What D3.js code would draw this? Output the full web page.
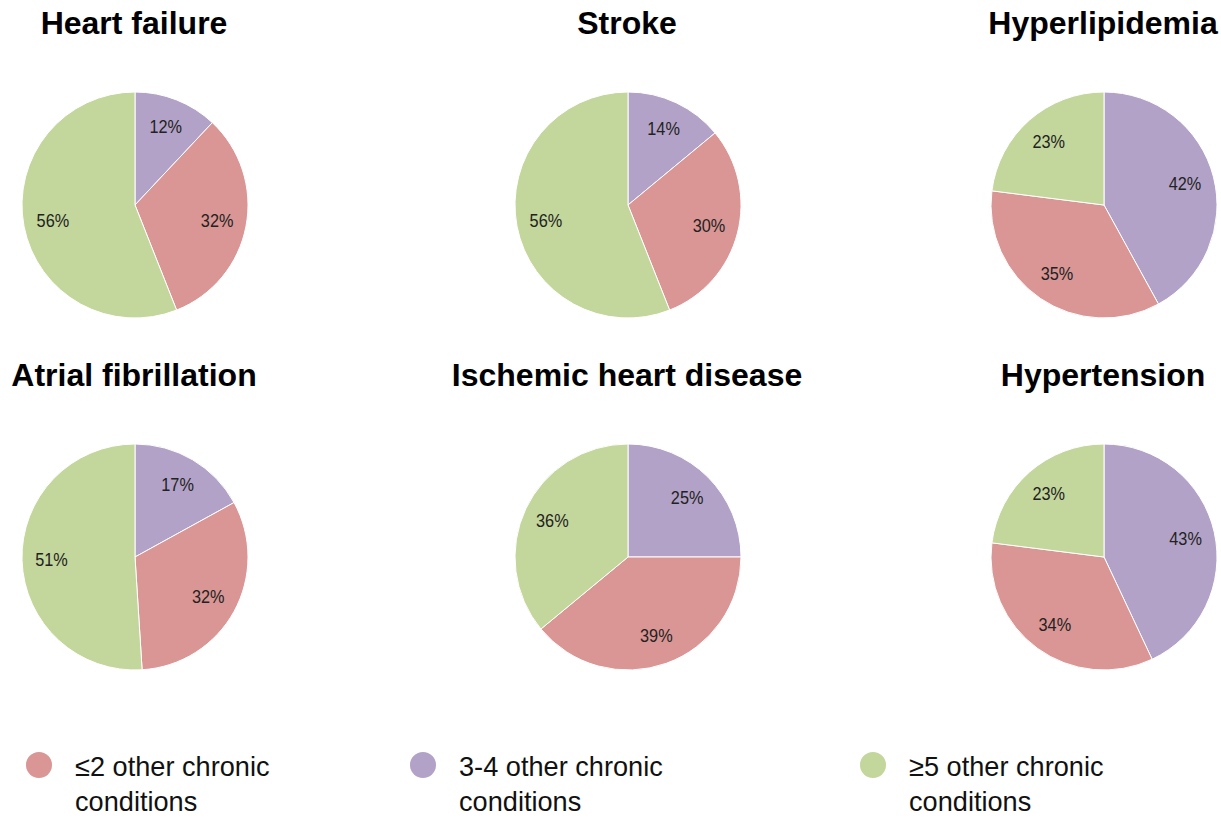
<!DOCTYPE html>
<html>
<head>
<meta charset="utf-8">
<script src="https://cdn.jsdelivr.net/npm/d3@7"></script>
<style>
	body{margin:0;background:#fff;}
	svg{display:block;}
	.title{font-family:"Liberation Sans",Arial,sans-serif;font-weight:bold;fill:#000;}
	.plabel{font-family:"Liberation Sans",Arial,sans-serif;fill:#222;}
	.legtext{font-family:"Liberation Sans",Arial,sans-serif;fill:#111;}
</style>
</head>
<body>
<div id="chart"></div>
<script>
// chart data
var diseases = ["Heart failure", "Stroke", "Hyperlipidemia", "Atrial fibrillation", "Ischemic heart disease", "Hypertension"];
var groups = ["3-4 other chronic conditions", "≤2 other chronic conditions", "≥5 other chronic conditions"];
var pct34 = [12, 14, 42, 17, 25, 43];
var pctLe2 = [32, 30, 35, 32, 39, 34];
var pctGe5 = [56, 56, 23, 51, 36, 23];
var legendLines = [["≤2 other chronic", "conditions"], ["3-4 other chronic", "conditions"], ["≥5 other chronic", "conditions"]];
var legendGroups = ["≤2 other chronic conditions", "3-4 other chronic conditions", "≥5 other chronic conditions"];

var width = 1221, height = 819;
var color = d3.scaleOrdinal()
	.domain(groups)
	.range(["#B3A2C7", "#D99694", "#C3D69B"]);

// grid positions of the pies
var colX = d3.scaleOrdinal().domain([0,1,2]).range([135, 628, 1104]);
var rowY = d3.scaleOrdinal().domain([0,1]).range([205, 557]);
var radius = 113;

var svg = d3.select('#chart').append('svg')
	.attr('width', width)
	.attr('height', height);

var pie = d3.pie().sort(null).value(function(d){ return d.v; });
var arc = d3.arc().innerRadius(0).outerRadius(radius);
var labelArc = d3.arc().innerRadius(radius*0.74).outerRadius(radius*0.74);

diseases.forEach(function(name, i){
	var col = i % 3, row = Math.floor(i/3);
	var cx = colX(col), cy = rowY(row);
	var data = [
		{g: groups[0], v: pct34[i]},
		{g: groups[1], v: pctLe2[i]},
		{g: groups[2], v: pctGe5[i]}
	];
	var g = svg.append('g').attr('transform', 'translate('+cx+','+cy+')');

	svg.append('text')
		.attr('class', 'title')
		.attr('transform', 'translate('+(cx-1)+','+(cy-171)+')')
		.attr('text-anchor', 'middle')
		.style('font-size', '32px')
		.text(name);

	var arcs = pie(data);
	g.selectAll('path').data(arcs).enter().append('path')
		.attr('d', arc)
		.attr('fill', function(d){ return color(d.data.g); })
		.attr('stroke', '#fff')
		.attr('stroke-width', 1);

	g.selectAll('text').data(arcs).enter().append('text')
		.attr('class', 'plabel')
		.attr('transform', function(d){
			var c = labelArc.centroid(d);
			return 'translate('+c[0]+','+(c[1]+6)+') scale(0.88,1)';
		})
		.attr('text-anchor', 'middle')
		.style('font-size', '18.5px')
		.text(function(d){ return d.data.v+'%'; });
});

// legend
var legX = [39, 423, 873];
var leg = svg.selectAll('.leg').data(legendGroups).enter().append('g')
	.attr('class', 'leg')
	.attr('transform', function(d, i){ return 'translate('+legX[i]+',765)'; });
leg.append('circle')
	.attr('r', 13)
	.attr('fill', function(d){ return color(d); });
leg.append('text')
	.attr('class', 'legtext')
	.attr('transform', 'translate(36,11) scale(0.97,1)')
	.style('font-size', '28px')
	.selectAll('tspan').data(function(d, i){ return legendLines[i]; }).enter().append('tspan')
	.attr('x', 0)
	.attr('dy', function(d, j){ return j==0 ? 0 : 35; })
	.text(function(d){ return d; });
</script>
</body>
</html>
